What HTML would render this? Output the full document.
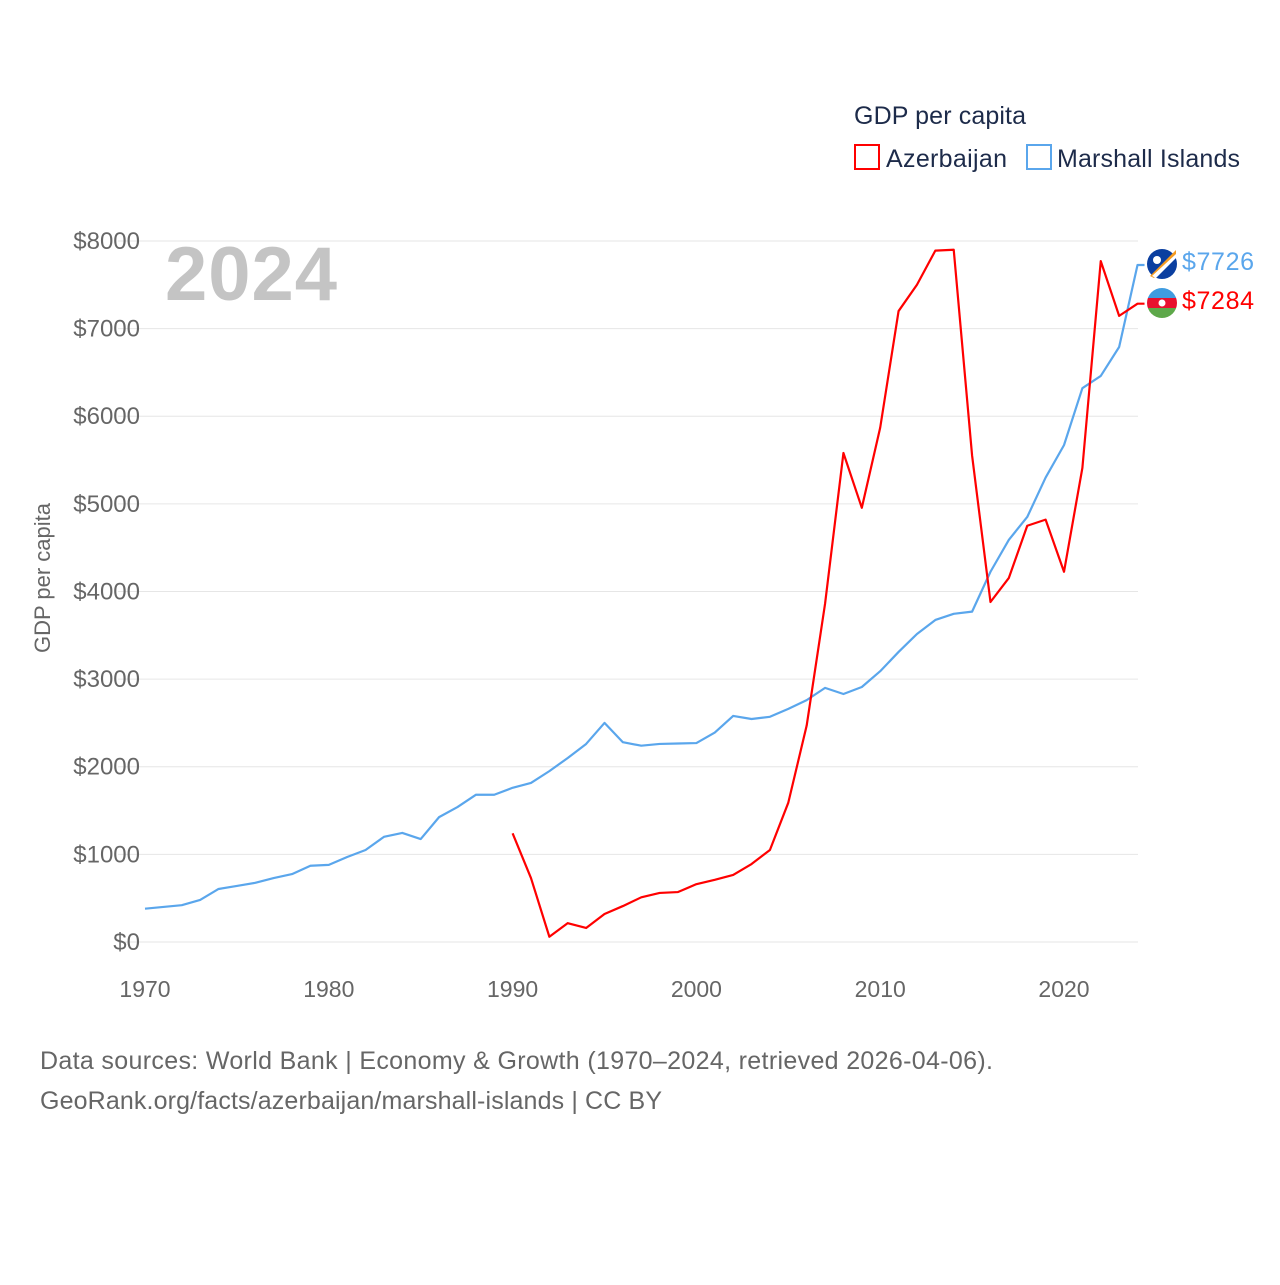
<!DOCTYPE html>
<html><head><meta charset="utf-8"><style>
body{margin:0;background:#fff;}
svg text{font-family:"Liberation Sans",sans-serif;}
</style></head><body>
<svg width="1280" height="1280" viewBox="0 0 1280 1280">
<g id="grid"></g>
<g id="yt"></g>
<g id="xt"></g>
<text x="165" y="300" font-size="76" font-weight="bold" fill="#c4c4c4" textLength="172">2024</text>
<text transform="translate(50,578) rotate(-90)" text-anchor="middle" font-size="22" fill="#666">GDP per capita</text>
<text x="854" y="124" font-size="25" fill="#1d2b4a" textLength="172">GDP per capita</text>
<g><rect x="855" y="145" width="24" height="24" fill="none" stroke="#f00" stroke-width="2"/><text x="886" y="167" font-size="25" fill="#1d2b4a" textLength="121">Azerbaijan</text></g>
<g><rect x="1027" y="145" width="24" height="24" fill="none" stroke="#5aa6ec" stroke-width="2"/><text x="1057" y="167" font-size="25" fill="#1d2b4a" textLength="183">Marshall Islands</text></g>
<g id="series"></g>
<g><circle cx="1162" cy="264" r="15" fill="#0b3fa0"/><path d="M1150 276 L1176 250 L1176 256 L1154 278Z" fill="#f59b20"/><path d="M1152 276 L1176 254 L1176 258 L1156 278Z" fill="#fff"/><circle cx="1157" cy="260" r="4" fill="#fff"/></g>
<g><clipPath id="fc"><circle cx="1162" cy="303" r="15"/></clipPath><g clip-path="url(#fc)"><rect x="1147" y="288" width="30" height="10" fill="#3f9ce0"/><rect x="1147" y="298" width="30" height="10" fill="#e8102e"/><rect x="1147" y="308" width="30" height="10" fill="#5ea84a"/><circle cx="1162" cy="303" r="3.5" fill="#fff"/></g></g>
<text x="1182" y="270" font-size="25" fill="#5aa6ec" textLength="72">$7726</text>
<text x="1182" y="309" font-size="25" fill="#f00" textLength="72">$7284</text>
<text x="40" y="1069" font-size="25" fill="#666" textLength="953">Data sources: World Bank | Economy &amp; Growth (1970–2024, retrieved 2026-04-06).</text>
<text x="40" y="1109" font-size="25" fill="#666" textLength="622">GeoRank.org/facts/azerbaijan/marshall-islands | CC BY</text>
</svg>
<script>
const yTicks=[0,1000,2000,3000,4000,5000,6000,7000,8000];
const xTicks=[1970,1980,1990,2000,2010,2020];
const miYears=[];for(let y=1970;y<=2024;y++)miYears.push(y);
const miValues=[380,400,420,480,605,640,675,730,775,870,880,970,1050,1200,1245,1175,1425,1540,1680,1680,1760,1815,1950,2100,2260,2500,2280,2240,2260,2265,2270,2390,2580,2545,2570,2660,2760,2900,2830,2910,3090,3310,3515,3675,3745,3770,4225,4590,4850,5300,5670,6320,6460,6790,7726];
const azYears=[];for(let y=1990;y<=2024;y++)azYears.push(y);
const azValues=[1240,730,60,215,160,320,410,510,560,570,660,710,765,890,1050,1590,2470,3860,5580,4955,5870,7200,7500,7890,7900,5550,3880,4155,4750,4820,4225,5410,7770,7145,7284];
const X=y=>145+(y-1970)*18.38, Y=v=>942-v*0.08763;
const NS="http://www.w3.org/2000/svg";
const g=document.getElementById('grid'),yt=document.getElementById('yt'),xt=document.getElementById('xt'),s=document.getElementById('series');
yTicks.forEach(t=>{
 const l=document.createElementNS(NS,'line');l.setAttribute('x1',118);l.setAttribute('x2',1138);l.setAttribute('y1',Y(t));l.setAttribute('y2',Y(t));l.setAttribute('stroke','#e6e6e6');
 
 
 g.appendChild(l);
 const tx=document.createElementNS(NS,'text');tx.setAttribute('x',140);tx.setAttribute('y',Y(t)+8);tx.setAttribute('text-anchor','end');tx.setAttribute('font-size','24');tx.setAttribute('fill','#666');tx.textContent='$'+t;
 
 
 yt.appendChild(tx);
});
xTicks.forEach(t=>{
 const tx=document.createElementNS(NS,'text');tx.setAttribute('x',X(t));tx.setAttribute('y',997);tx.setAttribute('text-anchor','middle');tx.setAttribute('font-size','23');tx.setAttribute('fill','#666');tx.textContent=t;
 
 
 xt.appendChild(tx);
});
function line(ys,vs,c,name){
 const p=document.createElementNS(NS,'polyline');
 let pts=ys.map((y,i)=>X(y)+','+Y(vs[i]));
 const last=vs[vs.length-1];pts.push((X(ys[ys.length-1])+7)+','+Y(last));
 p.setAttribute('points',pts.join(' '));p.setAttribute('fill','none');p.setAttribute('stroke',c);p.setAttribute('stroke-width',2.2);p.setAttribute('stroke-linejoin','round');
 
 
 s.appendChild(p);
}
line(miYears,miValues,'#5aa6ec','line-marshall-islands');
line(azYears,azValues,'#f00','line-azerbaijan');
</script>
</body></html>
